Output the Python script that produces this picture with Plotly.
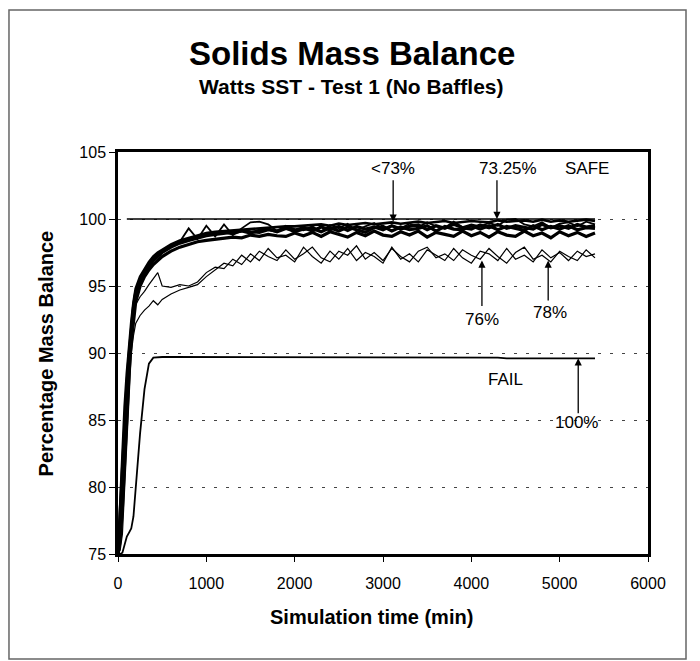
import plotly.graph_objects as go

# simulation time (min)
t = [0, 25, 50, 75, 100, 125, 150, 175, 200, 250, 300, 350, 400, 450, 500, 600, 700, 800, 900, 1000,
     1100, 1200, 1300, 1400, 1500, 1600, 1700, 1800, 1900, 2000,
     2100, 2200, 2300, 2400, 2500, 2600, 2700, 2800, 2900, 3000,
     3100, 3200, 3300, 3400, 3500, 3600, 3700, 3800, 3900, 4000,
     4100, 4200, 4300, 4400, 4500, 4600, 4700, 4800, 4900, 5000,
     5100, 5200, 5300, 5400]

# percentage mass balance, one list per run
run_a = [75, 79, 83, 86, 88.5, 90.5, 92.3, 93.8, 94.8, 95.7, 96.3, 96.8, 97.2, 97.5, 97.7, 98.1, 98.4, 98.6, 98.8, 98.95,
         99.05, 99.1, 99.2, 99.25, 99.3, 99.3, 99.35, 99.4, 99.45, 99.45,
         99.5, 99.55, 99.6, 99.5, 99.65, 99.55, 99.6, 99.7, 99.6, 99.65,
         99.75, 99.65, 99.7, 99.8, 99.7, 99.75, 99.85, 99.7, 99.8, 99.85,
         99.8, 99.75, 99.9, 99.8, 99.85, 99.9, 99.8, 99.95, 99.8, 99.9,
         99.8, 99.9, 99.95, 99.85]
run_b = [75, 77, 80.5, 84, 87, 89.5, 91.5, 93.2, 94.4, 95.4, 96.0, 96.5, 96.9, 97.2, 97.5, 97.9, 98.2, 98.4, 98.6, 98.75,
         98.85, 98.95, 99.0, 99.1, 98.95, 99.15, 99.25, 99.05, 99.3, 99.15,
         99.35, 99.1, 99.4, 99.2, 99.45, 99.15, 99.45, 99.25, 99.4, 99.2,
         99.5, 99.25, 99.45, 99.55, 99.2, 99.5, 99.3, 99.6, 99.35, 99.25,
         99.55, 99.35, 99.6, 99.3, 99.5, 99.4, 99.25, 99.6, 99.35, 99.5,
         99.3, 99.6, 99.4, 99.5]
run_c = [75, 76, 78.5, 82, 85.5, 88.5, 90.8, 92.5, 93.8, 95.0, 95.7, 96.2, 96.6, 96.9, 97.2, 97.6, 97.9, 98.1, 98.3, 98.4,
         98.5, 98.55, 98.65, 98.6, 98.8, 98.7, 98.85, 98.75, 98.7, 98.95,
         98.75, 99.0, 98.7, 99.05, 98.85, 98.65, 99.0, 98.75, 99.1, 98.8,
         98.7, 99.05, 98.8, 99.1, 98.65, 99.0, 98.85, 98.7, 99.1, 98.75,
         99.0, 98.65, 99.05, 98.8, 98.7, 99.1, 98.75, 98.95, 98.6, 99.05,
         98.75, 99.0, 98.7, 98.95]
run_d = [75, 78, 82, 85, 87.5, 89.8, 91.8, 93.4, 94.5, 95.5, 96.1, 96.6, 97.0, 97.3, 97.6, 98.0, 98.3, 98.5, 98.7, 98.85,
         98.9, 99.05, 98.9, 99.15, 99.05, 99.0, 99.2, 99.1, 99.35, 99.05,
         99.25, 99.3, 99.05, 99.35, 99.1, 99.4, 99.2, 99.0, 99.35, 99.45,
         99.1, 99.4, 99.2, 99.3, 99.5, 99.1, 99.45, 99.25, 99.2, 99.5,
         99.25, 99.5, 99.2, 99.45, 99.3, 99.15, 99.5, 99.2, 99.45, 99.25,
         99.5, 99.2, 99.35, 99.3]
run_7325 = [75, 77.5, 81, 85, 87.8, 90, 91.8, 93.3, 94.5, 95.5, 96.1, 96.6, 97.0, 97.3, 97.6, 98.0, 98.3, 99.3, 98.5, 99.5,
            98.7, 99.6, 98.8, 99.3, 99.75, 99.8, 99.6, 99.1, 99.5, 99.25,
            99.15, 99.45, 99.05, 99.55, 99.3, 99.65, 99.15, 99.45, 99.7, 99.25,
            99.5, 99.3, 99.65, 99.4, 99.75, 99.45, 99.35, 99.8, 99.4, 99.6,
            99.45, 99.7, 99.5, 99.95, 100.0, 99.6, 99.45, 99.75, 99.35, 99.65,
            99.75, 99.45, 99.8, 99.6]
run_76 = [75, 75.3, 76.5, 80, 84, 87.5, 90, 91.3, 92.2, 92.8, 93.2, 93.5, 93.9, 93.6, 94.0, 94.4, 94.7, 94.9, 95.1, 95.7,
          96.2, 96.7, 96.5, 97.3, 96.8, 97.6, 97.2, 96.9, 97.7, 97.0,
          97.4, 97.9, 97.1, 96.8, 97.6, 97.3, 98.0, 97.0, 97.5, 96.9,
          97.8, 97.2, 96.8, 97.6, 97.9, 97.1, 97.4, 96.9, 97.7, 97.3,
          97.0, 97.8, 97.2, 96.7, 97.5, 97.9, 97.0, 97.3, 96.8, 97.6,
          97.2, 96.9, 97.7, 97.1]
run_78 = [75, 76, 78, 82.5, 86.5, 89.5, 91.5, 92.8, 93.6, 94.2, 94.6, 95.1, 95.6, 96.0, 95.0, 94.9, 95.1, 95.0, 95.3, 96.0,
          96.4, 96.3, 97.0, 96.6, 97.4, 96.9, 97.8, 97.1, 97.3, 96.8,
          97.9, 97.2, 96.7, 97.6, 97.0, 97.8, 96.9, 97.5, 97.2, 96.7,
          97.9, 97.0, 97.4, 96.8, 97.7, 97.3, 96.9, 97.8, 97.1, 96.7,
          97.6, 97.4, 96.9, 97.8, 97.0, 97.3, 96.8, 97.7, 97.1, 97.5,
          96.9, 97.6, 97.2, 97.4]
run_100 = [75, 75, 75.1, 75.8, 76.3, 76.6, 76.9, 77.8, 80.0, 84.0, 87.3, 89.2, 89.65, 89.7, 89.7, 89.7, 89.7, 89.7, 89.7, 89.7,
           89.7, 89.7, 89.7, 89.7, 89.7, 89.7, 89.7, 89.7, 89.7, 89.7,
           89.7, 89.7, 89.7, 89.7, 89.7, 89.7, 89.7, 89.7, 89.7, 89.65,
           89.65, 89.65, 89.65, 89.65, 89.65, 89.65, 89.65, 89.65, 89.65, 89.65,
           89.65, 89.65, 89.65, 89.6, 89.6, 89.6, 89.6, 89.6, 89.6, 89.6,
           89.6, 89.6, 89.6, 89.6]

# 100 % reference line
ref_t = [100, 5400]
ref_y = [100, 100]

font = "Liberation Sans, Arial, sans-serif"

fig = go.Figure()
fig.add_trace(go.Scatter(x=ref_t, y=ref_y, mode="lines", line=dict(color="black", width=1.6)))
runs = [(run_100, 1.8), (run_76, 1.2), (run_78, 1.2), (run_c, 3.2), (run_d, 3.2),
        (run_b, 3.2), (run_a, 2.6), (run_7325, 1.8)]
for ys, w in runs:
    fig.add_trace(go.Scatter(x=t, y=ys, mode="lines", line=dict(color="black", width=w)))

# arrows: (tip x, tip y, tail x, tail y)
arrows = [(3115, 99.8, 3115, 103.0), (4290, 100.0, 4290, 103.0),
          (4120, 96.9, 4120, 93.4), (4870, 96.9, 4870, 93.8),
          (5210, 89.6, 5210, 85.4)]
for x1, y1, x0, y0 in arrows:
    fig.add_annotation(x=x1, y=y1, ax=x0, ay=y0, axref="x", ayref="y", xref="x", yref="y",
                       text="", showarrow=True, arrowhead=2, arrowsize=1.1, arrowwidth=1.3, arrowcolor="black")

labels = [("<73%", 3115, 103.8), ("73.25%", 4420, 103.8), ("SAFE", 5310, 103.8),
          ("76%", 4120, 92.5), ("78%", 4890, 93.0), ("FAIL", 4390, 88.0), ("100%", 5190, 84.8)]
for txt, lx, ly in labels:
    fig.add_annotation(x=lx, y=ly, xref="x", yref="y", text=txt, showarrow=False,
                       font=dict(family=font, size=17, color="black"))

# titles
fig.add_annotation(x=0.4415, y=1.246, xref="paper", yref="paper", yanchor="middle",
                   text="<b>Solids Mass Balance</b>", showarrow=False,
                   font=dict(family=font, size=33, color="black"))
fig.add_annotation(x=0.4415, y=1.162, xref="paper", yref="paper", yanchor="middle",
                   text="<b>Watts SST - Test 1 (No Baffles)</b>", showarrow=False,
                   font=dict(family=font, size=21, color="black"))
fig.add_annotation(x=0.479, y=-0.157, xref="paper", yref="paper", yanchor="middle",
                   text="<b>Simulation time (min)</b>", showarrow=False,
                   font=dict(family=font, size=20, color="black"))
fig.add_annotation(x=-0.135, y=0.5, xref="paper", yref="paper", xanchor="center", yanchor="middle",
                   textangle=-90, text="<b>Percentage Mass Balance</b>", showarrow=False,
                   font=dict(family=font, size=20, color="black"))

# outer border
fig.add_shape(type="rect", xref="paper", yref="paper", x0=-0.2057, x1=1.0717, y0=-0.2612, y1=1.3532,
              line=dict(color="#666", width=1.5))

fig.update_layout(
    width=692, height=653,
    margin=dict(l=110, r=52, t=144, b=107),
    paper_bgcolor="white", plot_bgcolor="white",
    showlegend=False,
    font=dict(family=font, size=16, color="black"),
)
fig.update_xaxes(range=[0, 6000], tickvals=[0, 1000, 2000, 3000, 4000, 5000, 6000],
                 showgrid=False, zeroline=False, showline=True, linecolor="black", linewidth=2.5,
                 mirror=True, ticks="outside", ticklen=5, tickcolor="black", ticklabelstandoff=8)
fig.update_yaxes(range=[75, 105], tickvals=[75, 80, 85, 90, 95, 100, 105],
                 showgrid=True, gridcolor="#444", gridwidth=1.2, griddash="3px,9px",
                 zeroline=False, showline=True, linecolor="black", linewidth=2.5,
                 mirror=True, ticks="outside", ticklen=6, tickcolor="black")

fig.write_html("out.html")
